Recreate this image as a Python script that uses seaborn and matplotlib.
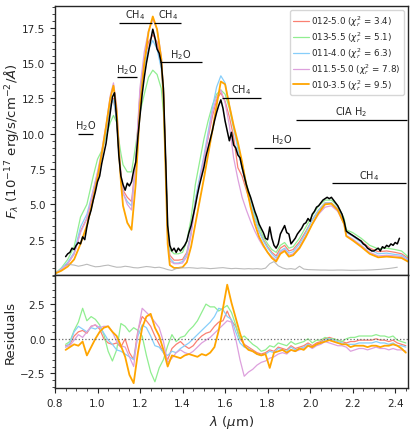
import numpy as np
import pandas as pd
import seaborn as sns
import matplotlib.pyplot as plt
from matplotlib.ticker import MultipleLocator

sns.set_style("ticks")
plt.rcParams['font.family'] = ['DejaVu Sans']
plt.rcParams['xtick.labelsize'] = 7.5
plt.rcParams['ytick.labelsize'] = 7.5
plt.rcParams['axes.labelsize'] = 9.5

# observed spectrum (0.85 - 2.42 um, step 0.01)
wave_obs = np.round(np.arange(0.85, 2.425, 0.01), 2)
flux_obs = [1.3, 1.5, 1.6, 1.9, 1.8, 2.1, 2.3, 2.2, 2.7, 2.5,
            3.4, 4.1, 4.6, 5.3, 5.9, 6.6, 7.0, 7.9, 8.6, 9.3,
            10.4, 11.5, 12.6, 12.9, 11.0, 8.5, 7.0, 6.4, 6.0, 6.5,
            6.3, 6.6, 7.4, 8.0, 9.8, 11.3, 12.8, 14.0, 15.0, 15.8,
            16.6, 17.4, 16.8, 16.0, 15.7, 15.0, 13.2, 8.5, 3.5, 2.1,
            1.7, 1.9, 1.6, 1.9, 1.7, 1.9, 2.1, 2.4, 3.0, 3.5,
            4.2, 4.9, 5.7, 6.4, 7.0, 7.6, 8.4, 9.0, 9.6, 10.2,
            10.9, 11.5, 12.0, 12.4, 11.8, 10.9, 10.2, 9.5, 10.1, 9.2,
            9.0, 8.5, 8.3, 7.6, 7.0, 6.4, 5.9, 5.5, 5.0, 4.5,
            4.1, 3.6, 3.3, 3.0, 2.6, 2.5, 3.4, 2.6, 2.1, 1.9,
            2.2, 2.9, 3.2, 3.5, 3.0, 2.9, 2.2, 2.4, 2.6, 2.9,
            3.1, 3.3, 3.6, 3.7, 4.0, 3.8, 4.3, 4.5, 4.8, 4.9,
            5.1, 5.3, 5.4, 5.5, 5.4, 5.5, 5.3, 5.1, 4.9, 4.6,
            4.3, 3.8, 3.1, 3.0, 2.9, 2.8, 2.7, 2.6, 2.5, 2.4,
            2.2, 2.1, 1.9, 1.8, 1.7, 1.7, 1.8, 1.9, 1.7, 2.0,
            1.9, 2.1, 2.0, 2.2, 2.1, 2.3, 2.2, 2.6]

# noise of the spectrum
wave_err = np.round(np.arange(0.85, 2.415, 0.02), 2)
flux_err = [0.70, 0.74, 0.70, 0.62, 0.68, 0.76, 0.66, 0.58, 0.60, 0.66,
            0.70, 0.62, 0.55, 0.56, 0.62, 0.58, 0.52, 0.50, 0.55, 0.60,
            0.57, 0.52, 0.55, 0.48, 0.38, 0.32, 0.45, 0.52, 0.50, 0.52,
            0.50, 0.47, 0.50, 0.48, 0.45, 0.47, 0.50, 0.52, 0.48, 0.45,
            0.47, 0.45, 0.43, 0.45, 0.43, 0.45, 0.42, 0.48, 0.80, 0.95,
            0.65, 0.50, 0.42, 0.45, 0.40, 0.62, 0.42, 0.38, 0.37, 0.36,
            0.35, 0.35, 0.34, 0.34, 0.35, 0.35, 0.34, 0.33, 0.33, 0.34,
            0.34, 0.35, 0.36, 0.38, 0.40, 0.43, 0.46, 0.50, 0.55]

# best-fit models
wave_mod = [0.80, 0.83, 0.86, 0.89, 0.92, 0.95, 0.98, 1.00, 1.02, 1.04,
            1.06, 1.075, 1.09, 1.10, 1.11, 1.12, 1.14, 1.16, 1.18, 1.19,
            1.20, 1.22, 1.24, 1.26, 1.28, 1.30, 1.31, 1.32, 1.33, 1.34,
            1.36, 1.38, 1.40, 1.42, 1.44, 1.46, 1.48, 1.50, 1.52, 1.54,
            1.56, 1.58, 1.60, 1.62, 1.64, 1.66, 1.68, 1.70, 1.72, 1.74,
            1.76, 1.78, 1.80, 1.82, 1.84, 1.86, 1.88, 1.90, 1.92, 1.95,
            1.98, 2.01, 2.04, 2.07, 2.10, 2.13, 2.16, 2.17, 2.20, 2.24,
            2.28, 2.32, 2.36, 2.40, 2.43, 2.46]

mod_012 = [0.1, 0.4, 0.8, 1.5, 3.1, 4.0, 5.8, 7.0, 8.5, 10.2,
           12.0, 12.5, 11.0, 8.8, 7.0, 6.0, 5.5, 5.2, 8.0, 10.5,
           13.0, 15.0, 16.5, 17.0, 16.5, 15.0, 12.8, 8.2, 2.9, 1.4,
           1.05, 1.05, 1.1, 1.6, 3.0, 5.2, 6.7, 8.2, 9.7, 11.2,
           12.4, 12.9, 12.3, 11.2, 9.8, 7.6, 7.0, 6.0, 5.0, 4.0,
           3.1, 2.5, 2.0, 1.6, 1.35, 1.9, 2.1, 1.7, 1.8, 2.35,
           3.1, 3.9, 4.6, 5.1, 5.1, 4.7, 3.8, 3.05, 2.8, 2.4,
           1.9, 1.65, 1.7, 1.6, 1.5, 1.2]
mod_013 = [0.1, 0.5, 1.1, 2.0, 4.1, 5.0, 7.0, 8.2, 8.8, 9.8,
           10.8, 11.3, 10.8, 9.6, 8.6, 7.8, 7.3, 7.3, 9.2, 10.3,
           11.5, 12.8, 14.0, 14.5, 14.2, 13.2, 11.5, 8.0, 3.5, 1.8,
           1.5, 1.5, 1.6, 2.4, 4.0, 6.4, 8.0, 9.6, 10.9, 12.0,
           12.8, 13.1, 12.8, 11.8, 10.4, 9.2, 7.9, 6.5, 5.4, 4.3,
           3.4, 2.7, 2.2, 1.8, 1.6, 2.1, 2.3, 1.9, 2.0, 2.6,
           3.4, 4.2, 4.9, 5.3, 5.3, 4.9, 4.0, 3.2, 3.0, 2.6,
           2.1, 1.85, 1.9, 1.8, 1.7, 1.3]
mod_011 = [0.1, 0.45, 0.9, 1.6, 3.4, 4.3, 6.0, 7.2, 8.5, 10.2,
           12.0, 12.4, 11.0, 8.8, 7.0, 5.8, 5.2, 4.9, 7.8, 10.3,
           12.8, 14.8, 16.0, 16.6, 16.0, 14.6, 12.5, 8.0, 2.8, 1.2,
           0.85, 0.85, 0.95, 1.5, 3.0, 5.3, 6.9, 8.4, 10.1, 11.8,
           13.3, 14.1, 13.6, 12.0, 10.5, 8.9, 7.6, 6.2, 5.1, 4.0,
           3.1, 2.4, 1.9, 1.5, 1.2, 1.7, 1.9, 1.55, 1.65, 2.2,
           3.0, 3.9, 4.6, 5.1, 5.1, 4.7, 3.8, 3.0, 2.75, 2.3,
           1.8, 1.5, 1.55, 1.45, 1.4, 1.1]
mod_0115 = [0.1, 0.4, 0.8, 1.5, 3.0, 4.0, 6.0, 7.3, 8.8, 10.6,
            12.7, 13.6, 12.0, 9.5, 7.2, 5.8, 5.0, 4.6, 8.0, 10.8,
            13.3, 15.8, 17.3, 18.1, 17.4, 15.5, 13.0, 8.0, 2.6, 1.0,
            0.8, 0.8, 0.85, 1.3, 2.8, 5.0, 6.6, 8.2, 9.8, 11.5,
            12.6, 13.1, 12.2, 10.6, 8.3, 6.8, 5.5, 4.6, 3.8, 3.1,
            2.5, 2.0, 1.6, 1.3, 1.05, 1.6, 1.8, 1.4, 1.5, 2.0,
            2.8, 3.6, 4.3, 4.8, 4.9, 4.5, 3.6, 2.8, 2.55, 2.1,
            1.6, 1.35, 1.4, 1.35, 1.3, 1.0]
mod_010 = [0.1, 0.3, 0.6, 1.1, 2.2, 3.5, 5.4, 6.9, 8.6, 10.5,
           12.5, 13.4, 11.6, 9.0, 6.6, 4.9, 3.7, 3.2, 6.5, 9.2,
           12.0, 15.0, 17.2, 18.3, 17.4, 15.3, 12.8, 7.5, 2.2, 0.7,
           0.5, 0.5, 0.55, 0.9, 2.0, 3.6, 5.2, 6.8, 8.5, 10.2,
           12.0, 13.7, 13.5, 12.0, 10.6, 9.4, 8.0, 6.3, 4.8, 3.6,
           2.7, 2.1, 1.6, 1.2, 0.95, 1.5, 1.7, 1.3, 1.4, 1.9,
           2.7, 3.6, 4.4, 5.0, 5.05, 4.6, 3.6, 2.75, 2.45, 2.0,
           1.5, 1.25, 1.3, 1.25, 1.2, 0.95]

# residuals (0.85 - 2.45 um, step 0.02)
wave_res = np.round(np.arange(0.85, 2.455, 0.02), 2)
res_012 = [-0.5, -0.4, 0.2, 0.5, 0.6, 0.4, 0.9, 1.0, 0.7, 0.0,
           -0.3, -0.4, -0.3, -0.6, 0.0, -1.0, -1.5, 0.6, 1.6, 1.3,
           0.9, 0.2, -0.4, -1.0, -1.5, -0.7, -0.4, -0.2, -0.5, -0.7,
           -0.5, -0.1, 0.2, 0.4, 0.5, 0.9, 1.2, 1.3, 2.0, 1.3,
           0.9, 0.0, -0.4, -0.6, -0.8, -1.0, -1.1, -1.0, -0.8, -0.9,
           -0.6, -0.7, -0.8, -0.5, -0.7, -0.6, -0.5, -0.3, -0.5, -0.3,
           -0.2, 0.0, 0.1, 0.0, -0.1, -0.2, -0.3, -0.2, -0.2, -0.1,
           -0.1, -0.1, -0.1, 0.0, -0.1, -0.1, -0.2, -0.1, -0.3, -0.4,
           -0.5]
res_013 = [-0.4, -0.2, 0.6, 1.2, 2.2, 1.3, 1.6, 1.4, 1.0, 0.3,
           -0.9, -1.6, -0.8, 1.1, 0.9, 0.5, 0.8, 0.6, 0.2, -1.2,
           -2.4, -3.1, -2.1, -1.5, -0.5, 0.3, -0.2, 0.1, 0.2, 0.6,
           0.9, 1.3, 1.9, 2.5, 2.3, 2.3, 2.0, 2.2, 2.4, 1.9,
           1.0, 0.0, 0.2, -0.1, -0.4, -0.6, -0.9, -0.8, -0.5, -0.6,
           -0.3, -0.4, -0.5, -0.2, -0.4, -0.3, -0.2, 0.0, -0.3, -0.1,
           -0.1, 0.1, 0.0, 0.0, -0.1, -0.2, 0.0, 0.1, 0.1, 0.2,
           0.2, 0.2, 0.2, 0.3, 0.2, 0.2, 0.1, 0.2, -0.1, -0.2,
           -0.3]
res_011 = [-0.6, -0.3, 0.5, 0.9, 0.7, 0.5, 0.8, 0.7, 0.9, 0.4,
           -0.1, -0.4, -0.8, -0.9, -1.1, -1.3, -1.5, 0.2, 1.0, 0.8,
           0.2, -0.5, -0.6, -1.0, -1.2, -0.9, -1.0, -0.7, -0.5, -0.3,
           0.0, 0.3, 0.6, 0.9, 1.2, 1.6, 2.2, 2.1, 1.6, 1.4,
           0.5, -0.3, -0.6, -0.7, -0.9, -1.1, -1.2, -1.1, -0.9, -1.0,
           -0.7, -0.8, -0.9, -0.6, -0.8, -0.7, -0.6, -0.4, -0.6, -0.4,
           -0.3, -0.1, 0.0, -0.1, -0.2, -0.3, -0.4, -0.4, -0.4, -0.3,
           -0.3, -0.3, -0.3, -0.2, -0.3, -0.3, -0.4, -0.3, -0.5, -0.5,
           -0.6]
res_0115 = [-0.6, -0.5, -0.1, 0.3, 0.1, 0.5, 0.9, 1.0, 0.8, 0.9,
            0.9, 0.5, -0.2, -0.5, -0.6, -1.3, -2.0, 0.5, 2.2, 1.9,
            1.6, 1.2, 0.8, -0.2, -1.7, -1.4, -1.0, -0.8, -1.0, -1.1,
            -0.9, -0.6, -0.3, -0.1, 0.1, 0.4, 0.7, 1.0, 1.3, 1.2,
            0.0, -1.5, -2.7, -2.4, -2.2, -1.9, -1.7, -1.6, -1.4, -1.3,
            -1.1, -1.0, -1.1, -0.8, -0.9, -0.8, -0.7, -0.5, -0.7, -0.5,
            -0.4, -0.2, -0.3, -0.4, -0.5, -0.5, -0.6, -0.9, -0.8, -0.7,
            -0.7, -0.8, -0.7, -0.6, -0.7, -0.7, -0.8, -0.7, -0.8, -0.8,
            -0.9]
res_010 = [-0.8, -0.6, -0.4, -0.5, -0.2, -1.2, -0.6, 0.0, 0.5, 0.8,
           0.9, 0.5, 0.2, -0.5, -1.3, -2.6, -3.2, -1.0, 0.8, 1.6,
           1.8, 0.8, 0.2, -0.8, -2.0, -1.2, -1.3, -1.4, -1.2, -1.1,
           -1.2, -1.3, -1.1, -1.2, -1.0, -0.6, 0.6, 2.2, 3.9, 2.6,
           1.5, 0.4, -0.5, -0.8, -0.9, -1.1, -1.2, -1.1, -2.1, -1.0,
           -0.9, -0.8, -1.0, -0.8, -0.9, -0.7, -0.8, -0.5, -0.6, -0.4,
           -0.3, -0.2, -0.1, -0.2, -0.3, -0.4, -0.4, -0.6, -0.5, -0.5,
           -0.5, -0.6, -0.5, -0.5, -0.6, -0.5, -0.5, -0.4, -0.5, -0.7,
           -1.0]

labels = [r'012-5.0 ($\chi^2_r$ = 3.4)', r'013-5.5 ($\chi^2_r$ = 5.1)',
          r'011-4.0 ($\chi^2_r$ = 6.3)', r'011.5-5.0 ($\chi^2_r$ = 7.8)',
          r'010-3.5 ($\chi^2_r$ = 9.5)']
colors = ['salmon', 'lightgreen', 'lightskyblue', 'plum', 'orange']
models = [mod_012, mod_013, mod_011, mod_0115, mod_010]
resids = [res_012, res_013, res_011, res_0115, res_010]
widths = [0.9, 0.9, 0.9, 0.9, 1.3]

# absorption bands: (label, start, end, level)
bands = [(r'H$_2$O', 0.91, 0.98, 10.0),
         (r'H$_2$O', 1.09, 1.185, 14.0),
         (r'CH$_4$', 1.10, 1.255, 17.85),
         (r'CH$_4$', 1.265, 1.395, 17.85),
         (r'H$_2$O', 1.295, 1.49, 15.05),
         (r'CH$_4$', 1.585, 1.77, 12.55),
         (r'H$_2$O', 1.735, 2.0, 9.0),
         (r'CIA H$_2$', 1.935, 2.455, 11.0),
         (r'CH$_4$', 2.105, 2.452, 6.5)]

fig = plt.figure(figsize=(4.15, 4.31), dpi=100)
gs = fig.add_gridspec(2, 1, height_ratios=[269, 113], hspace=0,
                      left=0.1325, right=0.983, top=0.984, bottom=0.0974)
ax = fig.add_subplot(gs[0])
axr = fig.add_subplot(gs[1], sharex=ax)

for m, lab, c, w in zip(models, labels, colors, widths):
    sns.lineplot(x=wave_mod, y=m, color=c, lw=w, label=lab, ax=ax,
                 sort=False, estimator=None)
sns.lineplot(x=wave_obs, y=flux_obs, color='black', lw=1.1, ax=ax,
             sort=False, estimator=None)
sns.lineplot(x=wave_err, y=flux_err, color='darkgray', lw=0.8, alpha=0.8,
             ax=ax, sort=False, estimator=None)

for lab, x0, x1, lev in bands:
    ax.hlines(lev, x0, x1, color='black', lw=0.9)
    ax.text((x0 + x1) / 2, lev + 0.1, lab, ha='center', va='bottom', fontsize=7)

ax.set_xlim(0.8, 2.46)
ax.set_ylim(0, 19.05)
ax.set_yticks([2.5, 5.0, 7.5, 10.0, 12.5, 15.0, 17.5])
ax.yaxis.set_minor_locator(MultipleLocator(0.5))
ax.set_ylabel(r'$F_\lambda$ ($10^{-17}$ erg/s/cm$^{-2}$/$\AA$)', labelpad=1)
ax.tick_params(labelbottom=False)
ax.legend(loc='upper right', fontsize=6.3, frameon=True, handlelength=1.9,
          handletextpad=0.2, borderpad=0.35, labelspacing=0.12)

for r, c, w in zip(resids, colors, widths):
    sns.lineplot(x=wave_res, y=r, color=c, lw=w, ax=axr,
                 sort=False, estimator=None)
axr.axhline(0, color='dimgray', ls=':', lw=0.9)
axr.set_ylim(-3.55, 4.6)
axr.set_yticks([-2.5, 0.0, 2.5])
axr.yaxis.set_minor_locator(MultipleLocator(0.5))
axr.xaxis.set_minor_locator(MultipleLocator(0.05))
axr.set_xticks([0.8, 1.0, 1.2, 1.4, 1.6, 1.8, 2.0, 2.2, 2.4])
axr.set_xlim(0.8, 2.46)
axr.set_xlabel(r'$\lambda$ ($\mu$m)')
axr.set_ylabel('Residuals', labelpad=2)

for a in (ax, axr):
    for s in a.spines.values():
        s.set_linewidth(1.0)

fig.savefig('out.png', dpi=100)
